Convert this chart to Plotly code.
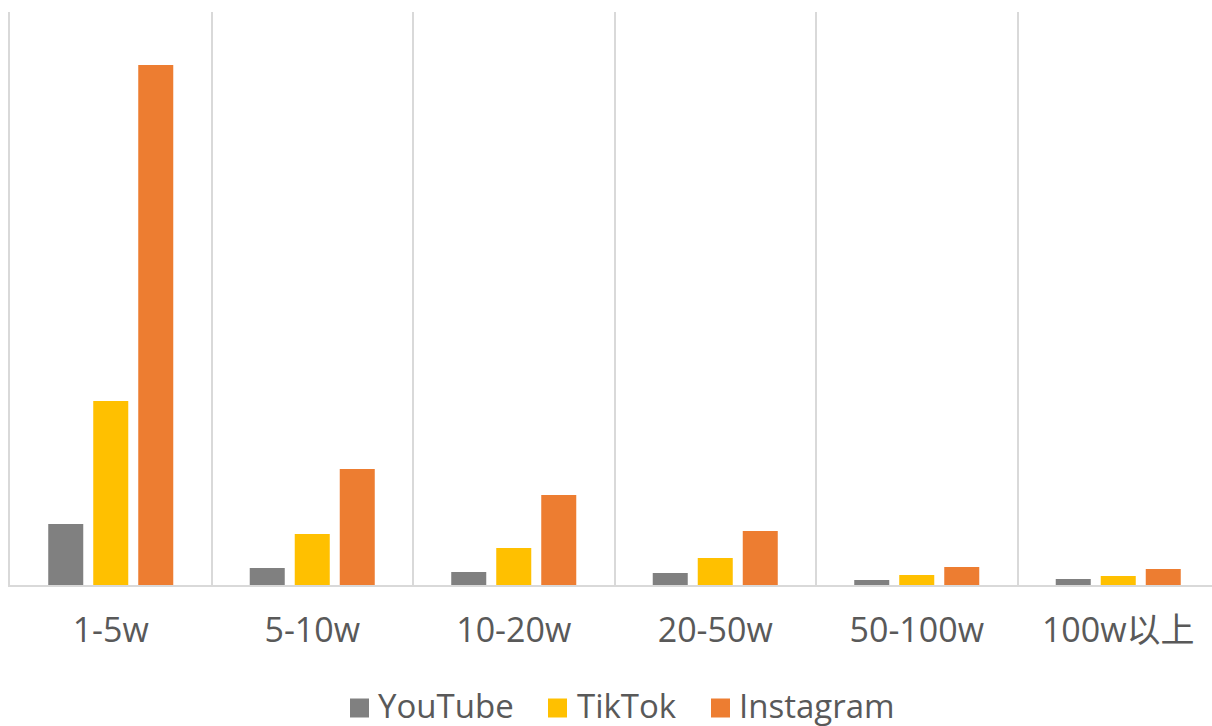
import plotly.graph_objects as go

categories = ["1-5w", "5-10w", "10-20w", "20-50w", "50-100w", "100w以上"]
youtube = [61, 17, 13, 12, 5, 6]
tiktok = [184, 51, 37, 27, 10, 9]
instagram = [520, 116, 90, 54, 18, 16]

series = [
    ("YouTube", youtube, "#808080"),
    ("TikTok", tiktok, "#FFC000"),
    ("Instagram", instagram, "#ED7D31"),
]

W, H = 1212, 726
ML, MR, MT, MB = 10, 0, 12, 141
PW, PH = W - ML - MR, H - MT - MB

fig = go.Figure()
for name, vals, color in series:
    fig.add_trace(go.Bar(x=categories, y=vals, name=name, showlegend=False,
                         marker=dict(color=color, line=dict(width=0))))

font_family = "Open Sans, Noto Sans CJK SC, sans-serif"
text_color = "#595959"

# manual legend (positions in pixels converted to paper coords)
legend_marker_left = [350, 548, 711]
legend_text_left = [377, 576, 738]
legend_cy = 708
msize = 19

def px_x(px):
    return (px - ML) / PW

def px_y(py):
    return (H - MB - py) / PH

for (name, _, color), mx, tx in zip(series, legend_marker_left, legend_text_left):
    fig.add_shape(type="rect", xref="paper", yref="paper",
                  x0=px_x(mx), x1=px_x(mx + msize),
                  y0=px_y(legend_cy + msize / 2), y1=px_y(legend_cy - msize / 2),
                  fillcolor=color, line=dict(width=0))
    fig.add_annotation(xref="paper", yref="paper", x=px_x(tx), y=px_y(legend_cy - 3),
                       text=name, showarrow=False, xanchor="left", yanchor="middle",
                       borderpad=0,
                       font=dict(size=33, color=text_color, family=font_family))

fig.update_layout(
    width=W, height=H,
    margin=dict(l=ML, r=MR, t=MT, b=MB),
    paper_bgcolor="white", plot_bgcolor="white",
    barmode="group", bargap=0.33, bargroupgap=0.222,
    font=dict(family=font_family, color=text_color, size=34),
    showlegend=False,
    xaxis=dict(type="category", tickson="boundaries", showgrid=True, gridcolor="#d9d9d9", gridwidth=2,
               showline=True, linecolor="#d9d9d9", linewidth=2, automargin=False,
               ticks="", ticklabelstandoff=14,
               range=[-0.5, -0.5 + PW / 201.5], tickfont=dict(size=34, color=text_color)),
    yaxis=dict(range=[0, 573], showticklabels=False, showgrid=False, zeroline=False,
               showline=True, linecolor="#d9d9d9", linewidth=2, ticks="", automargin=False),
)
fig.write_html("out.html", config={"displayModeBar": False, "staticPlot": True},
               post_script="document.body.style.margin='0';document.body.style.overflow='hidden';")
